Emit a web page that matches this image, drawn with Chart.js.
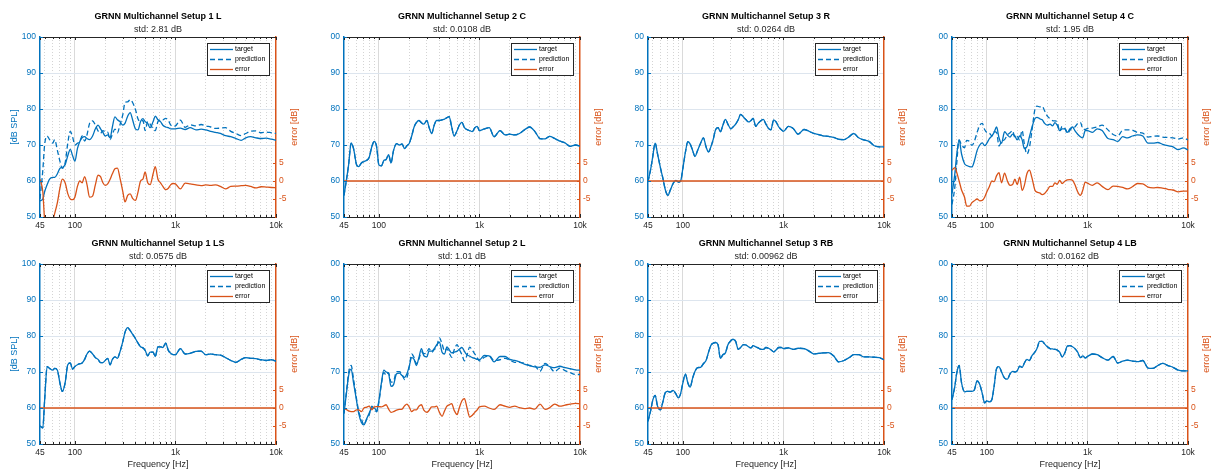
<!DOCTYPE html>
<html>
<head>
<meta charset="utf-8">
<script src="https://cdn.jsdelivr.net/npm/chart.js@4.4.1/dist/chart.umd.min.js"></script>
<style>
html, body { margin: 0; padding: 0; background: #fff; width: 1211px; height: 471px; overflow: hidden; position: relative; }
canvas { position: absolute; }
</style>
</head>
<body>
<script>
// shared frequency grid (Hz)
const freqHz = [45, 48, 50, 53, 56, 60, 63, 67, 71, 75, 80, 85, 90, 95,
  100, 106, 112, 118, 125, 132, 140, 150, 160, 170, 180, 190,
  200, 212, 224, 236, 250, 265, 280, 300, 315, 335, 355, 375,
  400, 425, 450, 475, 500, 530, 560, 600, 630, 670, 710, 750,
  800, 850, 900, 950,
  1000, 1120, 1250, 1400, 1600, 1800, 2000, 2240, 2500, 2800, 3150, 3550, 4000, 4500, 5000, 5600, 6300, 7100, 8000, 9000,
  10000];

// Setup 1 L
const s1L_target = [54.5, 55, 57, 59, 60.5, 61, 61, 62, 63.5, 63.8, 64.5, 67, 68.8, 67,
  65.5, 69, 71, 72, 72.3, 71.8, 71.5, 72.5, 74.5, 75.5, 74.5, 73.5,
  72.5, 72.8, 72, 75, 77.8, 77, 76.5, 75.5, 76, 78, 79, 77,
  74.5, 74.2, 76.5, 77.3, 76.5, 76, 74.8, 76.5, 78, 77, 76.5, 75.5,
  75, 74.8, 74.5, 74.5,
  74.5, 74.7, 74.3, 74.8, 74.2, 74.4, 74.2, 73.8, 73.5, 73.2, 72.6, 72.3, 71.8, 71.3, 72, 72.3, 72, 71.8, 71.9, 71.6,
  71.3];
const s1L_pred = [55, 63, 70, 72.5, 71.5, 70.5, 71.5, 68.5, 65.5, 63.5, 65, 70.5, 73.8, 72.2,
  70, 70.5, 71, 72.5, 71.1, 72.8, 76, 76.7, 75.5, 73.9, 73.3, 74,
  73.7, 73.6, 71.5, 73, 74.4, 73.4, 75.5, 78.5, 81.8, 82, 82.6, 81.8,
  79.9, 77.2, 76.5, 76.8, 74, 76.5, 75.8, 74.5, 74, 76.5, 77, 77,
  77.4, 76.8, 75.5, 75.2,
  75.3, 76.9, 74.9, 75.6, 75.3, 75.7, 75.3, 75, 74.6, 74.7, 74.8, 73.8, 73.2, 72.6, 73.2, 73.8, 73.9, 73.4, 73.6, 73.4,
  73.2];
const s1L_err = [0.5, -3, -10.5, -12, -12, -11, -9, -6, -2, 0.5, -0.5, -3.5, -5, -5.2,
  -4.5, -1.5, 0, -0.5, 1.2, -1, -4.5, -4.2, -1, 1.6, 1.2, -0.5,
  -1.2, -0.8, 0.5, 2, 3.4, 3.6, 1, -3, -5.8, -4, -3.6, -4.8,
  -5.4, -3, 0, 0.5, 2.5, -0.5, -1, 2, 4, 0.5, -0.5, -1.5,
  -2.4, -2, -1, -0.7,
  -0.8, -2.2, -0.6, -0.8, -1.1, -1.3, -1.1, -1.2, -1.1, -1.5, -2.2, -1.5, -1.4, -1.3, -1.2, -1.5, -1.9, -1.6, -1.7, -1.8,
  -1.9];

// Setup 2 C
const s2C_target = [56, 61, 64.5, 70.5, 69, 64.5, 64, 65, 65.4, 65.7, 66.5, 69.5, 71, 69.5,
  64.5, 64.2, 65.7, 66, 67.3, 65, 68.5, 70.4, 70, 70.3, 69, 69.8,
  70.4, 72.5, 75, 76.2, 76.8, 76.2, 75.8, 76.8, 75, 73.2, 75.5, 76.8,
  76.8, 77, 77.2, 77.6, 77.9, 75, 72.5, 74, 75.5, 76.3, 74.8, 74.3,
  74, 73.7, 74.8, 75.2,
  74, 74.5, 74.8, 72.3, 74, 72.8, 73, 72.8, 73.2, 74.2, 75, 73.8, 71.8, 71.7, 72.4, 71.8, 71.1, 70.6, 69.6, 70,
  69.7];

// Setup 3 R
const s3R_target = [59.8, 63.5, 66.5, 70.5, 67.5, 63.5, 61, 57.5, 56, 57.5, 59.3, 60.2, 59.7, 60,
  63.5, 68, 70.9, 70.3, 68.5, 66.8, 68.5, 70.5, 72, 69.5, 68.1, 69.5,
  71.5, 74.3, 74.8, 73.7, 75.5, 77.1, 75.8, 74.5, 75, 75.8, 77, 78.5,
  77.8, 77, 76.4, 76.8, 77.4, 75.2, 76, 76.8, 77.1, 75.8, 74.6, 74.2,
  77, 76.3, 75, 74.3,
  73.8, 75.2, 74.6, 73, 74.3, 73.8, 73.2, 72.9, 72.5, 72.4, 72.1, 71.6, 71.5, 72.3, 73.2, 72, 71.4, 71, 69.8, 69.5,
  69.5];

// Setup 4 C
const s4C_target = [56.5, 62, 67, 71.4, 67.5, 64.8, 64.3, 64, 63.9, 65.5, 68.5, 70, 70.6, 69.8,
  70.5, 71.8, 72.5, 73.5, 75, 72, 70.5, 73.7, 72.8, 72.2, 73, 72.5,
  71.4, 72.5, 71.5, 69, 69.5, 72.3, 74.8, 77.3, 77.7, 77.3, 77, 76,
  75.5, 75.8, 75.3, 76.2, 75.5, 74, 74.5, 74.5, 73.5, 74.5, 75, 74,
  73, 72.3, 72, 74,
  74, 73.5, 74.5, 74, 71.8, 71.5, 71, 72.3, 72, 72.5, 72.8, 72.5, 70.5, 70.5, 70.7, 70.2, 69.8, 69.5, 68.7, 69.2,
  68.6];
const s4C_pred = [53.5, 58.3, 64.5, 71.4, 70, 69.3, 71.3, 71, 69.9, 71, 73.5, 75.5, 76, 74.3,
  73.5, 73.3, 72.5, 73.7, 73.5, 69.7, 71, 71.5, 72.8, 73.4, 74, 72,
  72.4, 71.4, 74.1, 70.2, 67.5, 69.3, 73.8, 79.8, 80.8, 80.6, 80.8, 79.5,
  78, 77.3, 76.8, 76.7, 76.4, 73.8, 75.2, 74.5, 73.2, 74.1, 74.8, 75,
  76, 76.3, 74.5, 74.3,
  74.6, 74.7, 75, 75.5, 74.2, 72.9, 72.5, 74.1, 74.2, 74.1, 73.5, 73.3, 72.2, 72.4, 72.5, 72.2, 72.1, 72, 71.7, 72,
  71.4];
const s4C_err = [3, 3.7, 2.5, 0, -2.5, -4.5, -7, -7, -6, -5.5, -5, -5.5, -5.4, -4.5,
  -3, -1.5, 0, -0.2, 1.5, 2.3, -0.5, 2.2, 0, -1.2, -1, 0.5,
  -1, 1.1, -2.6, -1.2, 2, 3, 1, -2.5, -3.1, -3.3, -3.8, -3.5,
  -2.5, -1.5, -1.5, -0.5, -0.9, 0.2, -0.7, 0, 0.3, 0.4, 0.2, -1,
  -3, -4, -2.5, -0.3,
  -0.6, -1.2, -0.5, -1.5, -2.4, -1.4, -1.5, -1.8, -2.2, -1.6, -0.7, -0.8, -1.7, -1.9, -1.8, -2, -2.3, -2.5, -3, -2.8,
  -2.8];

// Setup 1 LS
const s1LS_target = [55, 54.5, 62, 71.5, 71, 70.5, 71, 70.5, 67, 64.6, 67, 72, 72.5, 70.8,
  71.5, 72, 72.3, 72.5, 73.5, 75, 75.8, 75, 74, 73.5, 72.6, 72.6,
  73.2, 73.8, 72, 73.5, 74.2, 73.8, 75.5, 78.5, 81, 82.3, 81.5, 80.5,
  79.3, 78, 77, 76.7, 76, 74.5, 75.5, 75.5, 74.3, 77, 77, 76.8,
  78, 76, 75.2, 74.8,
  74.8, 76.5, 75, 75.2, 75.7, 75.8, 74.8, 75, 74.8, 74.7, 74, 73.2, 72.7, 73.5, 74, 73.8, 73.7, 73.4, 73.2, 73.4,
  73];

// Setup 2 L
const s2L_target = [58.5, 65, 69, 70.8, 67, 62, 58.5, 56, 55.3, 56.8, 58.5, 60, 60, 59.3,
  62, 67, 70.5, 70, 69.5, 66, 66.5, 69.5, 69.7, 69, 68.5, 69.5,
  71.5, 74, 73.5, 71.8, 74, 76.5, 74.5, 74.2, 75.8, 75.8, 76.5, 77.5,
  78.3, 75.5, 75, 77, 76.2, 75.3, 75.5, 75.8, 76.3, 76.8, 75.7, 74.8,
  74.4, 74, 73.8, 73.5,
  73.4, 74.6, 74.5, 72.8, 74.3, 74.3, 73.5, 73.2, 72.8, 72.2, 71.8, 71.4, 71.3, 72, 71.5, 71.2, 71.6, 71.2, 70.9, 70.6,
  70.5];
const s2L_pred = [58.5, 65.5, 69.8, 71.8, 68, 62.5, 59, 57, 55.3, 56.6, 58, 60.5, 59.7, 58.9,
  61.6, 66.7, 69.9, 69.1, 69.8, 67.2, 67.5, 70.1, 70.1, 69.3, 67.9, 68.4,
  71.2, 75, 74, 72.3, 73.5, 75.6, 75.1, 75.4, 76.5, 75.5, 76.2, 77,
  79.5, 77.8, 75.8, 76.5, 75.3, 74.1, 76.1, 77.6, 76.3, 74.8, 73.1, 74.6,
  76.9, 76, 75, 74,
  73.1, 74.1, 74.5, 73.2, 73.4, 73.8, 73.3, 72.7, 72.7, 72.4, 71.8, 71.7, 70.2, 72.4, 71.4, 70.1, 71.1, 70.4, 69.8, 69.3,
  69.3];
const s2L_err = [0, -0.5, -0.8, -1, -1, -0.5, -0.5, -1, 0, 0.2, 0.5, -0.5, 0.3, 0.4,
  0.4, 0.3, 0.6, 0.9, -0.3, -1.2, -1, -0.6, -0.4, -0.3, 0.6, 1.1,
  0.3, -1, -0.5, -0.5, 0.5, 0.9, -0.6, -1.2, -0.7, 0.3, 0.3, 0.5,
  -1.2, -2.3, -0.8, 0.5, 0.9, 1.2, -0.6, -1.8, 0, 2, 2.6, 0.2,
  -2.5, -2, -1.2, -0.5,
  0.3, 0.5, 0, -0.4, 0.9, 0.5, 0.2, 0.5, 0.1, -0.2, 0, -0.3, 1.1, -0.4, 0.1, 1.1, 0.5, 0.8, 1.1, 1.3,
  1.2];

// Setup 3 RB
const s3RB_target = [56.3, 59.5, 62, 63.5, 60.5, 59.5, 61.5, 64.3, 64.6, 64.4, 64.9, 64, 62.8, 64,
  67, 69.4, 67, 65.8, 68.3, 70.2, 71.2, 71.3, 72.3, 73.2, 75.5, 77.4,
  78, 78.2, 77.5, 73.8, 74.8, 75.3, 77.5, 78.7, 79.1, 78.5, 76.3, 76.8,
  77.6, 77.5, 77, 76.7, 77.3, 77, 76.7, 76.3, 76.3, 76.8, 76.6, 76.2,
  75.6, 76.2, 76.8, 76.8,
  76.5, 76.7, 76.3, 76.6, 76.5, 75.8, 75, 75.2, 75.3, 75.4, 74.5, 72.8, 73.2, 74, 74.8, 74.8, 74.2, 74.2, 74.1, 74,
  73.4];

// Setup 4 LB
const s4LB_target = [62.3, 66, 69.5, 71.8, 67, 64.5, 64.6, 64.6, 64.6, 65, 67.5, 66.5, 64, 61.4,
  62, 61.7, 62.3, 66, 71, 71.5, 70, 68.3, 68, 69.5, 70.2, 70,
  70.3, 71.6, 71.3, 72.5, 73.5, 73.2, 74.5, 75.5, 76.5, 78.5, 78.5, 77.8,
  77, 76.5, 76.4, 76.3, 76.1, 75.5, 74.2, 75.5, 77.2, 77.3, 77, 76.5,
  75.5, 74, 74.5, 73.9,
  74.3, 75, 74.8, 74, 73.3, 74.3, 72.5, 73, 73.3, 73, 72.9, 73.2, 71.1, 71, 71.8, 72.4, 71.8, 71.3, 70.5, 70.3,
  70.3];

// error for the panels where prediction == target
const flatErrHz = [45, 10000];
const flatErr = [0, 0];

// axis ticks
const xTicks = [45, 50, 60, 70, 80, 90, 100, 200, 300, 400, 500, 600, 700, 800, 900,
  1000, 2000, 3000, 4000, 5000, 6000, 7000, 8000, 9000, 10000];
const xLabels = { 45: '45', 100: '100', 1000: '1k', 10000: '10k' };
const xMajor = [100, 1000, 10000];
const leftTicks = [50, 60, 70, 80, 90, 100];
const errTicks = [-5, 0, 5];

const panels = [
  { name: 'GRNN Multichannel Setup 1 L', std: 'std: 2.81 dB', target: s1L_target, pred: s1L_pred, err: s1L_err },
  { name: 'GRNN Multichannel Setup 2 C', std: 'std: 0.0108 dB', target: s2C_target, pred: s2C_target, err: null },
  { name: 'GRNN Multichannel Setup 3 R', std: 'std: 0.0264 dB', target: s3R_target, pred: s3R_target, err: null },
  { name: 'GRNN Multichannel Setup 4 C', std: 'std: 1.95 dB', target: s4C_target, pred: s4C_pred, err: s4C_err },
  { name: 'GRNN Multichannel Setup 1 LS', std: 'std: 0.0575 dB', target: s1LS_target, pred: s1LS_target, err: null },
  { name: 'GRNN Multichannel Setup 2 L', std: 'std: 1.01 dB', target: s2L_target, pred: s2L_pred, err: s2L_err },
  { name: 'GRNN Multichannel Setup 3 RB', std: 'std: 0.00962 dB', target: s3RB_target, pred: s3RB_target, err: null },
  { name: 'GRNN Multichannel Setup 4 LB', std: 'std: 0.0162 dB', target: s4LB_target, pred: s4LB_target, err: null }
];

const BLUE = '#0072BD';
const ORANGE = '#D95319';
const INK = '#262626';
const FONT = "'Liberation Sans', Arial, sans-serif";

function pts(xs, ys) {
  return xs.map((x, k) => ({ x: x, y: ys[k] }));
}

// frame, inward ticks, legend box and right axis label
const decor = {
  id: 'decor',
  afterDatasetsDraw(chart) {
    const ctx = chart.ctx;
    const a = chart.chartArea;
    const sx = chart.scales.x, sy = chart.scales.y, se = chart.scales.y2;
    ctx.save();
    ctx.lineWidth = 1;
    ctx.strokeStyle = INK;
    ctx.beginPath();
    ctx.moveTo(a.left, a.top + 0.5);
    ctx.lineTo(a.right, a.top + 0.5);
    xTicks.forEach(v => {
      const px = Math.round(sx.getPixelForValue(v)) + 0.5;
      const len = xLabels[v] ? 3 : 2;
      ctx.moveTo(px, a.bottom);
      ctx.lineTo(px, a.bottom - len);
      ctx.moveTo(px, a.top);
      ctx.lineTo(px, a.top + len);
    });
    ctx.stroke();

    ctx.strokeStyle = BLUE;
    ctx.beginPath();
    leftTicks.forEach(v => {
      const py = Math.round(sy.getPixelForValue(v)) + 0.5;
      ctx.moveTo(a.left, py);
      ctx.lineTo(a.left + 3, py);
    });
    ctx.stroke();
    ctx.strokeStyle = ORANGE;
    ctx.beginPath();
    errTicks.forEach(v => {
      const py = Math.round(se.getPixelForValue(v)) + 0.5;
      ctx.moveTo(a.right, py);
      ctx.lineTo(a.right - 3, py);
    });
    ctx.stroke();

    // legend
    const lx = Math.round(a.right - 69), ly = Math.round(a.top + 6);
    ctx.fillStyle = '#fff';
    ctx.fillRect(lx, ly, 62, 32);
    ctx.strokeStyle = INK;
    ctx.strokeRect(lx + 0.5, ly + 0.5, 62, 32);
    ctx.font = '7px ' + FONT;
    ctx.textBaseline = 'middle';
    ctx.textAlign = 'left';
    chart.data.datasets.forEach((ds, i) => {
      const yy = ly + 6.5 + i * 10;
      ctx.strokeStyle = ds.borderColor;
      ctx.lineWidth = 1.3;
      ctx.setLineDash(ds.borderDash || []);
      ctx.beginPath();
      ctx.moveTo(lx + 3, yy);
      ctx.lineTo(lx + 26, yy);
      ctx.stroke();
      ctx.setLineDash([]);
      ctx.fillStyle = '#000';
      ctx.fillText(ds.label, lx + 28, yy);
    });

    // right axis label, reading bottom to top
    ctx.translate(a.right + 19, (a.top + a.bottom) / 2);
    ctx.rotate(-Math.PI / 2);
    ctx.fillStyle = ORANGE;
    ctx.font = '9px ' + FONT;
    ctx.textAlign = 'center';
    ctx.fillText('error [dB]', 0, 0);
    ctx.restore();
  }
};

panels.forEach((p, i) => {
  const col = i % 4;
  const row = Math.floor(i / 4);
  const cv = document.createElement('canvas');
  cv.width = 316;
  cv.height = row === 0 ? 232 : 244;
  cv.style.left = (304 * col) + 'px';
  cv.style.top = (row === 0 ? 0 : 227) + 'px';
  document.body.appendChild(cv);

  new Chart(cv, {
    type: 'line',
    data: {
      datasets: [
        { label: 'target', data: pts(freqHz, p.target), borderColor: BLUE, borderWidth: 1.3,
          pointRadius: 0, cubicInterpolationMode: 'monotone', yAxisID: 'y', order: 2 },
        { label: 'prediction', data: pts(freqHz, p.pred), borderColor: BLUE, borderWidth: 1.3, borderDash: [5, 3],
          pointRadius: 0, cubicInterpolationMode: 'monotone', yAxisID: 'y', order: 1 },
        { label: 'error', data: p.err ? pts(freqHz, p.err) : pts(flatErrHz, flatErr), borderColor: ORANGE, borderWidth: 1.3,
          pointRadius: 0, cubicInterpolationMode: 'monotone', yAxisID: 'y2', order: 0 }
      ]
    },
    options: {
      responsive: false,
      animation: false,
      devicePixelRatio: 1,
      layout: { padding: 0 },
      plugins: {
        legend: { display: false },
        tooltip: { enabled: false },
        title: { display: true, text: p.name, color: '#000',
          font: { family: FONT, size: 9, weight: 'bold', lineHeight: 1.2 }, padding: { top: 11.6, bottom: 0 } },
        subtitle: { display: true, text: p.std, color: INK,
          font: { family: FONT, size: 9, lineHeight: 1.2 }, padding: { top: 2.2, bottom: 1.6 } }
      },
      scales: {
        x: {
          type: 'logarithmic', min: 45, max: 10000,
          afterBuildTicks: s => { s.ticks = xTicks.map(v => ({ value: v })); },
          afterFit: s => { s.height = row === 0 ? 15 : 27; },
          ticks: { autoSkip: false, maxRotation: 0, minRotation: 0, padding: 4, color: INK,
            font: { family: FONT, size: 8.5 }, callback: v => xLabels[v] || '' },
          grid: { drawTicks: false, lineWidth: 1,
            color: c => {
              const v = c.tick ? c.tick.value : null;
              if (v === 45 || v === 10000) return 'rgba(0,0,0,0)';
              return xMajor.includes(v) ? '#dadada' : '#d4d4d4';
            } },
          border: { color: INK, width: 1,
            dash: c => (c.tick && !xMajor.includes(c.tick.value)) ? [1, 2] : [] },
          title: { display: row === 1, text: 'Frequency [Hz]', color: INK,
            font: { family: FONT, size: 9 }, padding: { top: 0, bottom: 0.6 } }
        },
        y: {
          position: 'left', min: 50, max: 100,
          afterBuildTicks: s => { s.ticks = leftTicks.map(v => ({ value: v })); },
          afterFit: s => { s.width = 40; },
          ticks: { padding: 4, color: BLUE, font: { family: FONT, size: 8.5 },
            callback: v => (col > 0 && v === 100) ? '00' : String(v) },
          grid: { drawTicks: false,
            color: c => (c.tick && (c.tick.value === 50 || c.tick.value === 100)) ? 'rgba(0,0,0,0)' : '#dde5ee' },
          border: { color: BLUE, width: 1.5 },
          title: { display: col === 0, text: '[dB SPL]', color: BLUE,
            font: { family: FONT, size: 9 }, padding: { top: 9.6, bottom: 0 } }
        },
        y2: {
          position: 'right', min: -10, max: 40,
          afterBuildTicks: s => { s.ticks = errTicks.map(v => ({ value: v })); },
          afterFit: s => { s.width = 40; },
          ticks: { padding: 3, color: ORANGE, font: { family: FONT, size: 8.5 } },
          grid: { drawOnChartArea: false, drawTicks: false },
          border: { color: ORANGE, width: 1.5 }
        }
      }
    },
    plugins: [decor]
  });
});
</script>
</body>
</html>
